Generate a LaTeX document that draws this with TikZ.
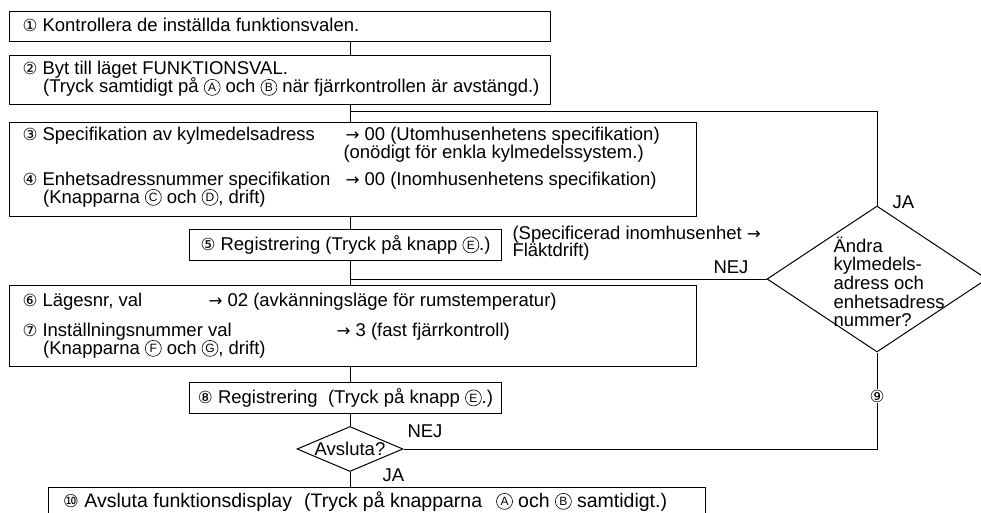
\documentclass[tikz,border=0pt]{standalone}
\usepackage{fontspec}
\setmainfont{Liberation Sans}
\newfontfamily\symf{DejaVu Sans}[Scale=0.9]
\newcommand{\cc}[1]{{\symf #1}}
\newcommand{\cl}[1]{\tikz[baseline={([yshift=-1.5pt]cq.base)}]\node[circle,draw,line width=0.6pt,inner sep=0pt,minimum size=16pt,font=\fontsize{12}{12}\selectfont](cq){#1};}
\usetikzlibrary{shapes.geometric}
\begin{document}
\begin{tikzpicture}[x=1pt,y=-1pt,line width=1pt,
  box/.style={draw,anchor=north west,inner sep=0pt,line width=1pt},
  ctxt/.style={font=\fontsize{18.5}{17}\selectfont},
  txt/.style={anchor=base west,inner sep=0pt,font=\fontsize{18.5}{17}\selectfont},
  dia/.style={draw,shape=diamond,inner sep=0pt,line width=1pt}]
\path[use as bounding box,clip] (0,0) rectangle (981,513);
\fill[white] (0,0) rectangle (981,513);
% boxes
\node[box,minimum width=541pt,minimum height=30pt] (b1) at (9,11) {};
\node[box,minimum width=541pt,minimum height=49pt] (b2) at (9,55) {};
\node[box,minimum width=687pt,minimum height=94pt] (b3) at (9,122) {};
\node[box,minimum width=312pt,minimum height=31pt,ctxt] (b5) at (189,229) {\cc{⑤} Registrering (Tryck på knapp \cl{E}.)};
\node[box,minimum width=687pt,minimum height=81pt] (b6) at (9,285) {};
\node[box,minimum width=312pt,minimum height=31pt,ctxt] (b8) at (189,382) {\cc{⑧} Registrering\ \ (Tryck på knapp \cl{E}.)};
\node[box,minimum width=657pt,minimum height=40pt] (b10) at (48,487) {};
\node[dia,minimum width=106pt,minimum height=45pt] (av) at (350,449) {};
\node[dia,minimum width=220pt,minimum height=146pt] (dm) at (877,279) {};
% texts
\node[txt] (t1) at (22,32) {\cc{①} Kontrollera de inställda funktionsvalen.};
\node[txt] (t2a) at (22,75) {\cc{②} Byt till läget FUNKTIONSVAL.};
\node[txt] (t2b) at (43,93) {(Tryck samtidigt på \cl{A} och \cl{B} när fjärrkontrollen är avstängd.)};
\node[txt] (t3a) at (22,141) {\cc{③} Specifikation av kylmedelsadress};
\node[txt] (t3b) at (345,141) {\cc{→} 00 (Utomhusenhetens specifikation)};
\node[txt] (t3c) at (343,158) {(onödigt för enkla kylmedelssystem.)};
\node[txt] (t4a) at (22,185) {\cc{④} Enhetsadressnummer specifikation};
\node[txt] (t4b) at (345,185) {\cc{→} 00 (Inomhusenhetens specifikation)};
\node[txt] (t4c) at (43,203) {(Knapparna \cl{C} och \cl{D}, drift)};
\node[txt] (t5a) at (512,239) {(Specificerad inomhusenhet \cc{→}};
\node[txt] (t5b) at (512,256) {Fläktdrift)};
\node[txt] (t6a) at (22,306) {\cc{⑥} Lägesnr, val};
\node[txt] (t6b) at (208,306) {\cc{→} 02 (avkänningsläge för rumstemperatur)};
\node[txt] (t7a) at (22,336) {\cc{⑦} Inställningsnummer val};
\node[txt] (t7b) at (336,336) {\cc{→} 3 (fast fjärrkontroll)};
\node[txt] (t7c) at (43,354) {(Knapparna \cl{F} och \cl{G}, drift)};
\node[txt,font=\fontsize{19.5}{17}\selectfont] (t10) at (63,507) {\cc{⑩} Avsluta funktionsdisplay\hspace{12pt}(Tryck på knapparna\hspace{14pt}\cl{A} och \cl{B} samtidigt.)};
\node[ctxt,inner sep=0pt] (avt) at (av.center) {Avsluta?};
\node[txt] (d1) at (833,252) {Ändra};
\node[txt] (d2) at (833,270) {kylmedels-};
\node[txt] (d3) at (833,289) {adress och};
\node[txt] (d4) at (833,308) {enhetsadress};
\node[txt] (d5) at (833,326) {nummer?};
\node[txt] (ja1) at (892,208) {JA};
\node[txt] (nej1) at (713,273) {NEJ};
\node[txt] (nej2) at (407,437) {NEJ};
\node[txt] (ja2) at (382,481) {JA};
% connectors
\coordinate (jb) at (350,112);
\draw (b1.south -| av) -- (b2.north -| av);
\draw (b2.south -| av) -- (b3.north -| av);
\draw (jb) -| (dm.north);
\draw (b3.south -| av) -- (b5.north -| av);
\draw (b5.south -| av) -- (b6.north -| av);
\draw (dm.west) -- (dm.west -| av);
\draw (b6.south -| av) -- (b8.north -| av);
\draw (b8.south -| av) -- (av.north);
\draw (av.south) -- (b10.north -| av);
\draw (av.east) -| (dm.south);
\node[fill=white,inner sep=1pt,font=\fontsize{18.5}{17}\selectfont] (n9) at (877,396) {\cc{⑨}};
\end{tikzpicture}
\end{document}
